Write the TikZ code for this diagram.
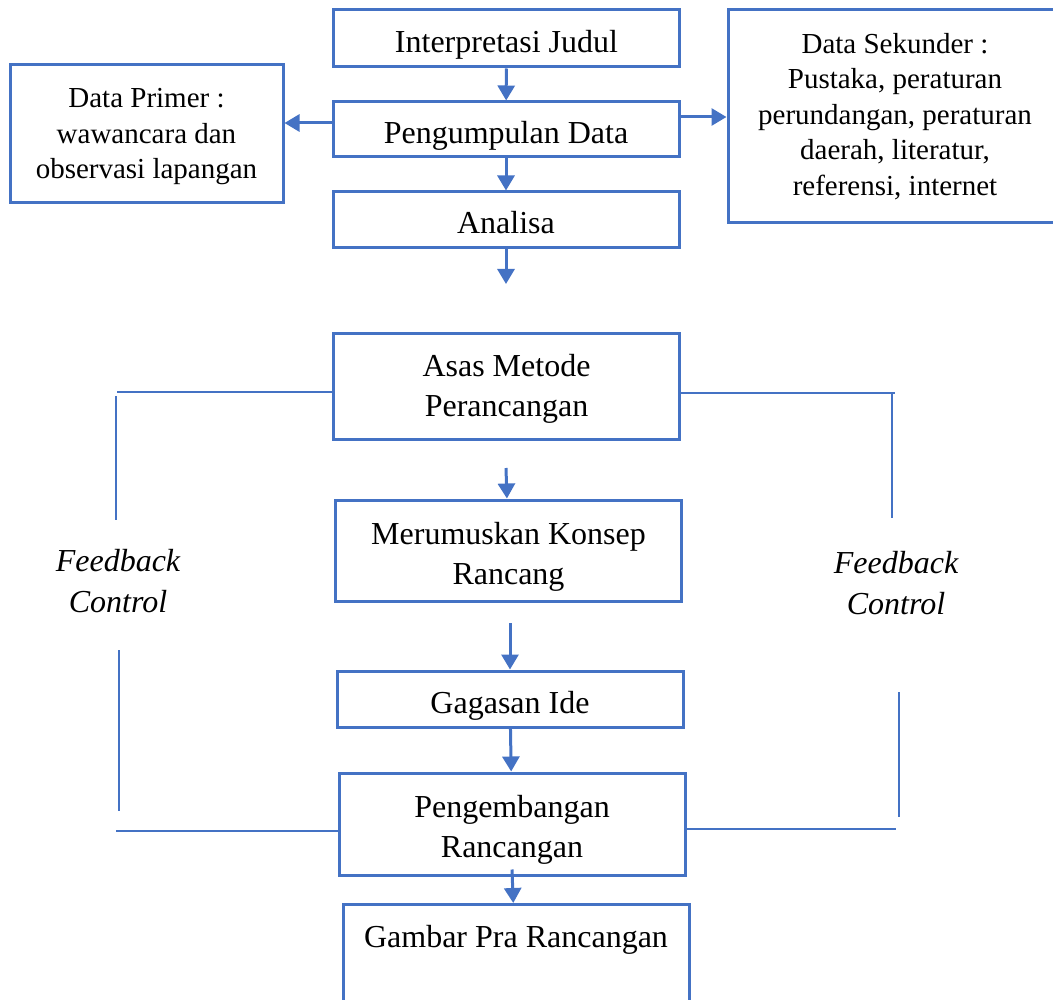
\documentclass[tikz,border=0pt]{standalone}
\usepackage{fontspec}
\setmainfont{Liberation Serif}
\usetikzlibrary{arrows.meta}
\definecolor{boxblue}{HTML}{4472C4}

\begin{document}
\begin{tikzpicture}[
    x=1pt, y=-1pt,
    every node/.style={align=center, inner sep=0pt, font=\fontsize{32}{40}\selectfont},
    stage/.style={draw=boxblue, line width=3pt, minimum width=346pt},
    oneline/.style={text height=31pt, text depth=3pt},
    twoline/.style={text height=71pt, text depth=4pt},
    source/.style={draw=boxblue, line width=3pt, font=\fontsize{29}{35.5}\selectfont},
    flow/.style={draw=boxblue, line width=3pt, -{Triangle[width=17pt,length=15pt]}},
    feedback/.style={draw=boxblue, line width=1.6pt},
    note/.style={font=\fontsize{32}{41}\selectfont\itshape}
]
\useasboundingbox (0,0) rectangle (1053,1000);
\clip (0,0) rectangle (1053,1000);

% Nodes
\node[stage, oneline, minimum height=57pt] (interp) at (506.5,38.5) {Interpretasi Judul};
\node[stage, oneline, minimum height=55pt] (kumpul) at (506,129.5) {Pengumpulan Data};
\node[stage, oneline, minimum height=56pt] (analisa) at (506,220) {Analisa};
\node[source, text height=93pt, text depth=3pt, minimum width=273pt, minimum height=138pt] (primer) at (146.5,134) {Data Primer :\\wawancara dan\\observasi lapangan};
\node[source, minimum width=334pt, minimum height=213pt] (sekunder) at (895,116.5) {Data Sekunder :\\Pustaka, peraturan\\perundangan, peraturan\\daerah, literatur,\\referensi, internet};
\node[stage, text height=70pt, text depth=10pt, minimum height=106pt] (asas) at (506.5,387) {Asas Metode\\Perancangan};
\node[stage, twoline, minimum height=101pt] (rumus) at (508.5,550.5) {Merumuskan Konsep\\Rancang};
\node[stage, oneline, minimum height=56pt] (gagasan) at (510,699) {Gagasan Ide};
\node[stage, twoline, minimum height=102pt] (kembang) at (512,824) {Pengembangan\\Rancangan};
\node[stage, anchor=north, inner ysep=21pt, text height=22pt, text depth=80pt] (gambar) at (516,903) {Gambar Pra Rancangan};

\node[note] (fbLeft) at (118,581) {Feedback\\Control};
\node[note] (fbRight) at (896,583) {Feedback\\Control};

% Free ends
\coordinate (kL) at (333,123);
\coordinate (kR) at (679,117);
\coordinate (aOut) at (506,284);
\coordinate (asasOut) at (506,468);
\coordinate (rumusOut) at (510,623);
\coordinate (L1) at (117,392);
\coordinate (L2) at (116,396);
\coordinate (L3) at (116,520);
\coordinate (L4) at (119,650);
\coordinate (L5) at (119,811);
\coordinate (L6) at (116,831);
\coordinate (R1) at (895,393);
\coordinate (R2) at (892,393);
\coordinate (R3) at (892,518);
\coordinate (R4) at (899,692);
\coordinate (R5) at (899,817);
\coordinate (R6) at (896,829);

% Arrows
\draw[flow] (interp) -- (kumpul);
\draw[flow] (kL) -- (kL -| primer.east);
\draw[flow] (kR) -- (kR -| sekunder.west);
\draw[flow] (kumpul) -- (analisa);
\draw[flow] (analisa) -- (aOut);
\draw[flow] (asasOut) -- (rumus);
\draw[flow] (rumusOut) -- (gagasan);
\draw[flow] (gagasan) -- (kembang);
\draw[flow] ([yshift=7pt]kembang.south) -- (gambar);

% Feedback lines
\draw[feedback] (L1 -| asas.west) -- (L1);
\draw[feedback] (L2) -- (L3);
\draw[feedback] (L4) -- (L5);
\draw[feedback] (L6) -- (L6 -| kembang.west);
\draw[feedback] (R1 -| asas.east) -- (R1);
\draw[feedback] (R2) -- (R3);
\draw[feedback] (R4) -- (R5);
\draw[feedback] (R6 -| kembang.east) -- (R6);

\end{tikzpicture}
\end{document}
